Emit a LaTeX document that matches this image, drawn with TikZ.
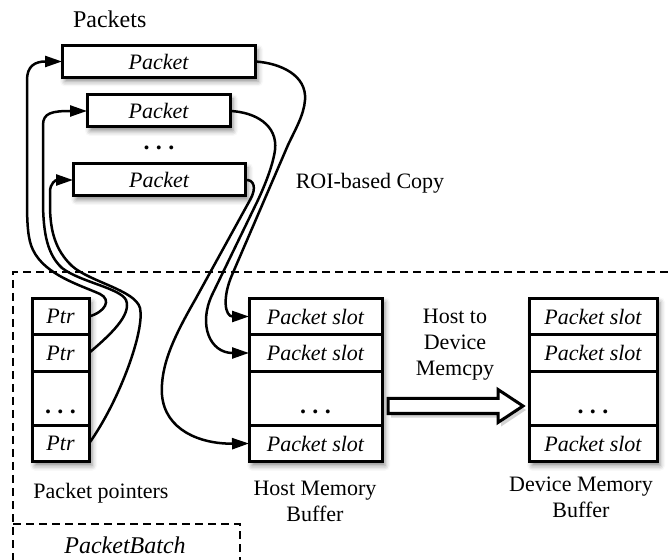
\documentclass[tikz,border=0pt]{standalone}
\usepackage{fontspec}
\setmainfont{Liberation Serif}
\usepackage{tikz}
\usetikzlibrary{
  arrows.meta,
  positioning,
  fit,
  calc,
  backgrounds,
  shadows,
  shadows.blur
}
\tikzset{
  pbbox/.style={
    draw, line width=1.5pt, fill=white, outer sep=0pt, inner sep=0pt,
    font=\fontsize{11}{13}\selectfont\itshape
  },
  pkt/.style={pbbox, minimum height=16pt},
  ptrcell/.style={pbbox, minimum width=28.5pt, minimum height=18.25pt},
  hostcell/.style={pbbox, minimum width=66.5pt, minimum height=18.25pt},
  devcell/.style={pbbox, minimum width=64pt, minimum height=18.25pt},
  dotcell/.style={minimum height=27pt},
  softshadow/.style={blur shadow={shadow xshift=1.5pt, shadow yshift=-2pt, shadow blur radius=2.5pt, shadow opacity=45}},
  colshadow/.style={draw=none, fill=white, inner sep=0pt, softshadow},
  ptrlink/.style={-{Triangle[length=8.5pt, width=5.5pt]}, line width=1.25pt},
  zone/.style={dash pattern=on 4pt off 2.5pt, line width=0.9pt},
  caption/.style={font=\fontsize{11}{13}\selectfont, align=center},
  bigtext/.style={font=\fontsize{12}{14}\selectfont}
}
\newcommand{\pbdots}{{\fontsize{12}{14}\selectfont\upshape\bfseries .\hspace{3.2pt}.\hspace{3.2pt}.}}
\newcommand{\rowdots}{\raisebox{-7.5pt}[0pt][0pt]{\pbdots}}

\begin{document}
\begin{tikzpicture}[x=0.5pt, y=-0.5pt]
  \useasboundingbox (0,0) rectangle (668,560);

  % batch area
  \draw[zone] (668,272) -- (13,272) -- (13,560);
  \draw[zone] (13,524) -- (240,524) -- (240,560);
  \node[bigtext, font=\fontsize{12}{14}\selectfont\itshape] (batchlabel) at (125,545) {PacketBatch};

  % packets
  \node[bigtext, anchor=west] (pktlabel) at (66,19) {Packets};
  \node[pkt, minimum width=96.5pt, softshadow] (pk1) at (158.5,61.5) {Packet};
  \node[pkt, minimum width=71.5pt, softshadow] (pk2) at (158.5,111) {Packet};
  \node (pkdots) at (159,148) {\pbdots};
  \node[pkt, minimum width=86pt, softshadow] (pk3) at (159,180) {Packet};

  % packet pointers
  \node[ptrcell] (ptr1) at (60.5,316.5) {Ptr};
  \node[ptrcell, below=0pt of ptr1] (ptr2) {Ptr};
  \node[ptrcell, dotcell, below=0pt of ptr2] (ptrd) {\rowdots};
  \node[ptrcell, below=0pt of ptrd] (ptr4) {Ptr};
  \node[caption] (ptrlabel) at (101,493) {Packet pointers};

  % host memory buffer
  \node[hostcell] (hslot1) at (315.5,316.5) {Packet slot};
  \node[hostcell, below=0pt of hslot1] (hslot2) {Packet slot};
  \node[hostcell, dotcell, below=0pt of hslot2] (hslotd) {\rowdots};
  \node[hostcell, below=0pt of hslotd] (hslot4) {Packet slot};
  \node[caption] (hostlabel) at (315,501) {Host Memory\\Buffer};

  % device memory buffer
  \node[devcell] (dslot1) at (593,316.5) {Packet slot};
  \node[devcell, below=0pt of dslot1] (dslot2) {Packet slot};
  \node[devcell, dotcell, below=0pt of dslot2] (dslotd) {\rowdots};
  \node[devcell, below=0pt of dslotd] (dslot4) {Packet slot};
  \node[caption] (devlabel) at (581,497) {Device Memory\\Buffer};

  \begin{scope}[on background layer]
    \node[colshadow, fit=(ptr1)(ptr4)] (ptrcol) {};
    \node[colshadow, fit=(hslot1)(hslot4)] (hostcol) {};
    \node[colshadow, fit=(dslot1)(dslot4)] (devcol) {};
  \end{scope}

  % host to device copy
  \coordinate (cpyfrom) at (388,406);
  \coordinate (cpyto) at (523,406);
  \draw[line width=1.5pt, fill=white, line join=miter,
        drop shadow={opacity=0.35, shadow xshift=1.5pt, shadow yshift=-2pt}]
    ($(cpyfrom)+(0,-7.5)$) -- ($(cpyto)+(-25,-7.5)$) -- ($(cpyto)+(-25,-16.5)$)
    -- (cpyto) -- ($(cpyto)+(-25,16.5)$) -- ($(cpyto)+(-25,7.5)$)
    -- ($(cpyfrom)+(0,7.5)$) -- cycle;
  \node[caption] (cpylabel) at (455,345) {Host to\\Device\\Memcpy};

  % pointers to packets
  \draw[ptrlink] (ptr1.east) .. controls (105,312) and (112,300) .. (100,294)
    .. controls (80,285) and (45,275) .. (33,250)
    .. controls (28,240) and (27,225) .. (27,200) -- (27,80)
    .. controls (27,66) and (35,61.5) .. (pk1.west);
  \draw[ptrlink] (ptr2.east) .. controls (110,335) and (132,315) .. (126,300)
    .. controls (120,288) and (80,282) .. (62,268)
    .. controls (48,255) and (43,235) .. (43,200) -- (43,125)
    .. controls (43,113) and (52,111) .. (pk2.west);
  \draw[ptrlink] (ptr4.east) .. controls (120,400) and (145,330) .. (140,308)
    .. controls (135,290) and (90,282) .. (72,266)
    .. controls (55,250) and (50,230) .. (50,205) -- (50,192)
    .. controls (50,183) and (56,180) .. (pk3.west);

  % ROI-based copy
  \node[caption] (roilabel) at (370,183) {ROI-based Copy};
  \draw[ptrlink] (pk1.east) .. controls (280,63) and (307,75) .. (305,100)
    .. controls (304,115) and (295,130) .. (288,145) -- (232,275)
    .. controls (222,298) and (225,316.5) .. (hslot1.west);
  \draw[ptrlink] (pk2.east) .. controls (255,112) and (278,125) .. (275,150)
    .. controls (273,165) and (265,185) .. (258,200) -- (212,295)
    .. controls (198,325) and (210,353) .. (hslot2.west);
  \draw[ptrlink] (pk3.east) .. controls (254,179) and (257,188) .. (250,200) -- (195,300)
    .. controls (175,335) and (160,365) .. (162,395)
    .. controls (165,430) and (200,444) .. (hslot4.west);
\end{tikzpicture}
\end{document}
